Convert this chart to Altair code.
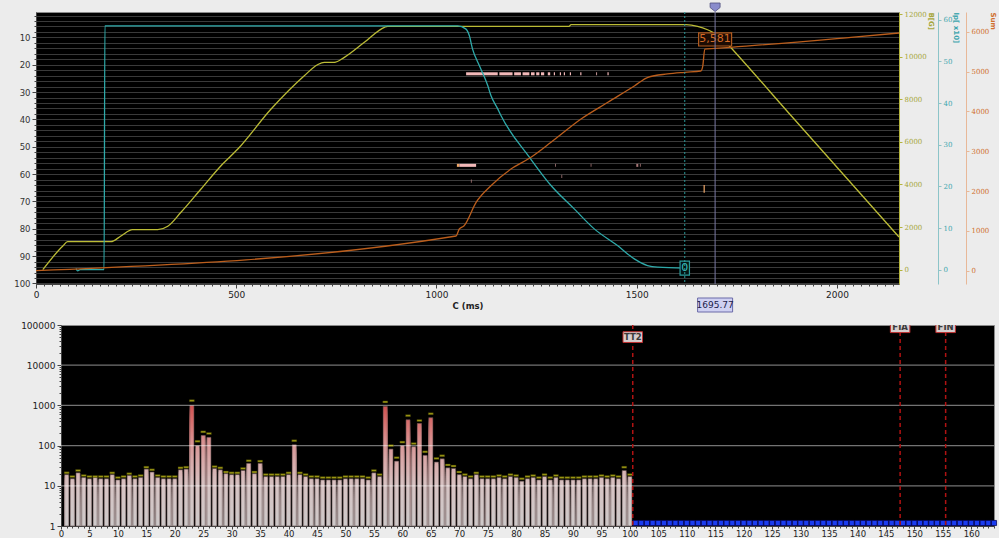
import altair as alt
import numpy as np
import pandas as pd

alt.data_transformers.disable_max_rows()

FONT = "DejaVu Sans"

# ---------------- upper panel: field, plasma current and accumulated sum vs time ----------------
T_MAX = 2155

b_t = [17, 67, 79, 187, 212, 241, 304, 329, 362, 412, 462, 504, 587, 670, 703, 720, 745, 770,
       820, 870, 878, 1331, 1336, 1623, 1652, 1677, 1690, 1712, 1731, 1893, 2155]
b_v = [0, 1112, 1314, 1314, 1581, 1877, 1877, 2037, 2694, 3787, 4880, 5664, 7541, 9104, 9620,
       9733, 9733, 9967, 10671, 11375, 11422, 11422, 11497, 11497, 11422, 11262, 11140, 10900,
       10511, 7072, 1534]

ip_t = [100, 104, 110, 170, 172, 400, 700, 1053, 1073, 1082, 1090, 1107, 1128, 1136, 1153, 1161,
        1232, 1286, 1344, 1394, 1452, 1494, 1527, 1552, 1620]
ip_v = [0.3, -0.3, 0, 0, 58.5, 58.5, 58.5, 58.5, 57.8, 56.2, 53.0, 49.0, 44.2, 41.8, 38.6, 37.0,
        27.0, 20.2, 14.6, 9.8, 5.8, 2.6, 1.0, 0.6, 0.4]

sum_t = [0, 1049, 1057, 1069, 1099, 1136, 1186, 1232, 1286, 1361, 1428, 1495, 1528, 1577, 1620,
         1660, 1665, 1670, 1695.77, 1735, 2035, 2155]
sum_v = [0, 871, 1047, 1130, 1717, 2134, 2553, 2822, 3224, 3809, 4228, 4645, 4856, 4939, 4981,
         5014, 5139, 5565, 5581, 5609, 5860, 5968]

cursor_t = 1695.77   # crosshair position
ip_mark_t = 1620     # current-zero marker

# event strips on the left (0-100) scale
ev_t0 = [1074, 1157, 1194, 1215, 1236, 1249, 1261, 1278, 1293, 1308, 1318, 1333, 1359, 1399, 1427,
         1051, 1057, 1296, 1385, 1499, 1508, 1086, 1312, 1667]
ev_t1 = [1153, 1190, 1211, 1232, 1245, 1257, 1269, 1284, 1296, 1311, 1321, 1336, 1362, 1401, 1430,
         1057, 1099, 1298, 1387, 1504, 1510, 1088, 1314, 1670]
ev_y0 = [22.75] * 15 + [56.25] * 6 + [62.0, 60.2, 64.0]
ev_y1 = [23.85] * 15 + [57.35] * 6 + [63.2, 61.4, 66.8]
ev_kind = ["a"] * 15 + ["o", "a", "c", "c", "c", "c", "c", "c", "o"]

# ---------------- lower panel: histogram on a log scale ----------------
counts = [19, 15, 21, 16, 15, 16, 15, 15, 19, 14,
          15, 18, 15, 16, 26, 22, 16, 15, 15, 15,
          25, 26, 1000, 100, 178, 160, 27, 25, 20, 19,
          19, 24, 36, 20, 36, 17, 17, 17, 17, 19,
          105, 19, 17, 15, 15, 14, 14, 14, 14, 15,
          15, 15, 15, 14, 21, 17, 950, 82, 41, 100,
          440, 94, 355, 57, 495, 39, 47, 28, 27, 19,
          17, 15, 19, 15, 15, 15, 16, 15, 17, 16,
          13, 15, 16, 14, 17, 14, 16, 14, 14, 14,
          14, 15, 15, 15, 16, 15, 16, 15, 24, 17]
peaks = [21, 17, 24, 18, 17, 17, 17, 17, 21, 16,
         17, 20, 17, 18, 29, 25, 18, 17, 17, 17,
         28, 29, 1310, 128, 220, 200, 30, 28, 22, 21,
         21, 27, 42, 22, 41, 19, 19, 19, 19, 21,
         132, 21, 19, 17, 17, 16, 16, 16, 16, 17,
         17, 17, 17, 16, 24, 19, 1220, 100, 50, 122,
         555, 112, 420, 70, 620, 48, 56, 33, 31, 22,
         19, 17, 21, 17, 17, 17, 18, 17, 19, 18,
         15, 17, 18, 16, 19, 16, 18, 16, 16, 16,
         16, 17, 17, 17, 18, 17, 18, 17, 29, 19]
bins = list(range(1, len(counts) + 1))
empty_bins = list(range(101, 165))

marker_names = ["TT2", "FIA", "FIN"]
marker_pos = [100.5, 147.5, 155.5]
marker_lab_y = [50000, 88000, 88000]

# ================= upper chart =================
W1, H1 = 863, 272

x_scale = alt.Scale(domain=[0, T_MAX], nice=False, zero=False)
x_axis = alt.Axis(
    title="C (ms)", values=list(range(0, T_MAX, 20)), format="d",
    labelExpr="datum.value % 500 === 0 ? datum.label : ''",
    tickSize={"condition": {"test": "datum.value % 500 === 0", "value": 4}, "value": 2},
    labelOverlap=False, labelFlush=False, labelFontSize=9, labelColor="#222",
    titleFontSize=8.5, titleFontWeight="bold", titleColor="#222", titlePadding=2,
    domainColor="#444", tickColor="#444", labelPadding=2, grid=False,
)


def xq(field):
    return alt.X(field, type="quantitative", scale=x_scale, axis=x_axis)


left_scale = alt.Scale(domain=[0.7, 100.2], reverse=True, nice=False, zero=False)
left_axis = alt.Axis(
    title=None, values=list(range(2, 101, 2)),
    labelExpr="datum.value % 10 === 0 ? datum.label : ''",
    tickSize={"condition": {"test": "datum.value % 10 === 0", "value": 4}, "value": 2},
    grid=True, gridColor="#3a3a3a", gridWidth=1, labelOverlap=False, labelFlush=False,
    labelFontSize=8.5, labelColor="#333", domainColor="#444", tickColor="#444",
    labelPadding=2, minExtent=28,
)

ev_df = pd.DataFrame({"t0": ev_t0, "t1": ev_t1, "y0": ev_y0, "y1": ev_y1, "kind": ev_kind})
events = alt.Chart(ev_df).mark_rect().encode(
    x=xq("t0"), x2="t1",
    y=alt.Y("y0:Q", scale=left_scale, axis=left_axis), y2="y1",
    color=alt.Color("kind:N", scale=alt.Scale(domain=["a", "o", "c"],
                                              range=["#f2b8b8", "#f0a868", "#a87878"]), legend=None),
)


def right_axis(title, values, color, label_color, offset):
    return alt.Axis(
        title=title, orient="right", offset=offset, values=values, format="d", grid=False,
        domainColor=color, tickColor=color, labelColor=label_color, titleColor=label_color,
        labelFont="DejaVu Serif", labelFontSize=7, titleFontSize=7, titleFontWeight="bold",
        titleAnchor="end", titleAlign="left", tickSize=3, labelPadding=2, titlePadding=1,
        labelFlush=False,
    )


b_scale = alt.Scale(domain=[-671, 12094], nice=False, zero=False)
b_axis = right_axis("B[G]", list(range(0, 12001, 2000)), "#b4b43c", "#a6a63a", 0)
b_df = pd.DataFrame({"t": b_t, "v": b_v})
b_line = alt.Chart(b_df).mark_line(color="#bcbc36", strokeWidth=1.3, interpolate="monotone").encode(
    x=xq("t"), y=alt.Y("v:Q", scale=b_scale, axis=b_axis)
)

ip_scale = alt.Scale(domain=[-3.43, 61.85], nice=False, zero=False)
ip_axis = right_axis("Ip[ x10]", list(range(0, 61, 10)), "#8cc4c8", "#3ea6ae", 39)
ip_df = pd.DataFrame({"t": ip_t, "v": ip_v})
ip_line = alt.Chart(ip_df).mark_line(color="#2eaaaa", strokeWidth=1.3, interpolate="monotone").encode(
    x=xq("t"), y=alt.Y("v:Q", scale=ip_scale, axis=ip_axis)
)
ip_at_mark = float(np.interp(ip_mark_t, ip_t, ip_v))
ip_lab_df = pd.DataFrame({"t": [ip_mark_t], "v": [ip_at_mark], "txt": [f"{round(ip_at_mark):d}"]})
ip_box = alt.Chart(ip_lab_df).mark_point(
    shape="M-0.67,-1H0.67V1H-0.67Z", size=196, filled=True, fill="#041414",
    stroke="#2a9a9a", strokeWidth=1.2, opacity=1,
).encode(x=xq("t"), y=alt.Y("v:Q", scale=ip_scale, axis=ip_axis))
ip_txt = alt.Chart(ip_lab_df).mark_text(color="#3cc0c0", fontSize=11, font=FONT).encode(
    x=xq("t"), y=alt.Y("v:Q", scale=ip_scale, axis=ip_axis), text="txt:N"
)
ip_layer = alt.layer(ip_line, ip_box, ip_txt)

sum_scale = alt.Scale(domain=[-334, 6495], nice=False, zero=False)
sum_axis = right_axis("Sum", list(range(0, 6001, 1000)), "#e8b898", "#d0702e", 67)
sum_df = pd.DataFrame({"t": sum_t, "v": sum_v})
sum_line = alt.Chart(sum_df).mark_line(color="#bc5e1c", strokeWidth=1.3, interpolate="monotone").encode(
    x=xq("t"), y=alt.Y("v:Q", scale=sum_scale, axis=sum_axis)
)
sum_at_cursor = float(np.interp(cursor_t, sum_t, sum_v))
sum_lab_df = pd.DataFrame({"t": [cursor_t], "v": [sum_at_cursor], "txt": [f"{sum_at_cursor:,.0f}"]})
sum_box = alt.Chart(sum_lab_df).mark_point(
    shape="M-1,-0.4H1V0.4H-1Z", size=1089, filled=True, fill="#1c0c04",
    stroke="#b05a1e", strokeWidth=1.2, opacity=1, yOffset=-9,
).encode(x=xq("t"), y=alt.Y("v:Q", scale=sum_scale, axis=sum_axis))
sum_txt = alt.Chart(sum_lab_df).mark_text(color="#d46a26", fontSize=11, font=FONT, yOffset=-9).encode(
    x=xq("t"), y=alt.Y("v:Q", scale=sum_scale, axis=sum_axis), text="txt:N"
)
sum_layer = alt.layer(sum_line, sum_box, sum_txt)

ip_rule = alt.Chart(pd.DataFrame({"t": [ip_mark_t]})).mark_rule(
    color="#2a9a9a", strokeDash=[2, 2], strokeWidth=1
).encode(x=xq("t"))

cur_df = pd.DataFrame({"t": [cursor_t], "txt": [f"{cursor_t:.2f}"]})
cursor_rule = alt.Chart(cur_df).mark_rule(color="#7a7aa4", strokeWidth=1).encode(x=xq("t"))
cursor_tri = alt.Chart(cur_df).mark_point(
    shape="M-1,-0.8H1V0.1L0,0.9L-1,0.1Z", size=100, filled=True, fill="#8a8ccc",
    stroke="#505080", strokeWidth=0.8, opacity=1,
).encode(x=xq("t"), y=alt.value(-5))
cursor_box = alt.Chart(cur_df).mark_point(
    shape="M-1,-0.4H1V0.4H-1Z", size=1225, filled=True, fill="#cfd0f2",
    stroke="#6a6aa8", strokeWidth=1, opacity=1,
).encode(x=xq("t"), y=alt.value(H1 + 21))
cursor_txt = alt.Chart(cur_df).mark_text(color="#20204a", fontSize=9, font=FONT).encode(
    x=xq("t"), y=alt.value(H1 + 21), text="txt:N"
)

top = alt.layer(
    events, b_line, ip_layer, sum_layer, ip_rule, cursor_rule, cursor_tri, cursor_box, cursor_txt
).resolve_scale(y="independent").properties(width=W1, height=H1)

# ================= lower chart =================
W2, H2 = 933, 201

xb_scale = alt.Scale(domain=[0, 164], nice=False, zero=False)
xb_axis = alt.Axis(
    title=None, values=list(range(0, 165)),
    labelExpr="datum.value % 5 === 0 ? datum.label : ''",
    tickSize={"condition": {"test": "datum.value % 5 === 0", "value": 3}, "value": 2},
    labelOverlap=False, labelFlush=False, labelFontSize=8.5, labelColor="#222",
    domainColor="#444", tickColor="#444", labelPadding=0, grid=False,
)
log_vals = [m * 10 ** e for e in range(0, 5) for m in range(1, 10)] + [100000]
yb_scale = alt.Scale(type="log", domain=[1, 100000], nice=False)
yb_axis = alt.Axis(
    title=None, values=log_vals,
    labelExpr="indexof([1,10,100,1000,10000,100000], datum.value) >= 0 ? format(datum.value, 'd') : ''",
    tickSize={"condition": {"test": "indexof([1,10,100,1000,10000,100000], datum.value) >= 0",
                            "value": 4}, "value": 2},
    labelOverlap=False, labelFlush=False, labelFontSize=9, labelColor="#222",
    domainColor="#444", tickColor="#444", labelPadding=2, grid=False,
)


def xb(field):
    return alt.X(field, type="quantitative", scale=xb_scale, axis=xb_axis)


def yb(field):
    return alt.Y(field, type="quantitative", scale=yb_scale, axis=yb_axis)


# each bar is painted as nested slices so that its colour follows the height on the log axis
levels = 10 ** (np.arange(1, 66) / 20.0)
rows = []
for b, c in zip(bins, counts):
    tops = []
    prev = 1.0
    for L in levels:
        if prev >= c:
            break
        tops.append(min(c, L))
        prev = L
    for tp in reversed(tops):
        rows.append({"x0": b - 0.36, "x1": b + 0.36, "lo": 1.0, "hi": float(tp),
                     "lv": float(np.log10(tp))})
slices = pd.DataFrame(rows)

bars = alt.Chart(slices).mark_rect().encode(
    x=xb("x0"), x2="x1", y=yb("lo"), y2="hi",
    color=alt.Color("lv:Q", scale=alt.Scale(domain=[0, 1, 2, 3.1],
                                            range=["#cdc9c9", "#d6c4c4", "#d89a9a", "#cf4a4a"]),
                    legend=None),
)
bar_df = pd.DataFrame({"b": bins, "x0": [b - 0.36 for b in bins], "x1": [b + 0.36 for b in bins],
                       "lo": [1.0] * len(bins), "hi": counts, "peak": peaks})
outline = alt.Chart(bar_df).mark_rect(fillOpacity=0, stroke="#5e4a4a", strokeWidth=0.6).encode(
    x=xb("x0"), x2="x1", y=yb("lo"), y2="hi"
)
grid_df = pd.DataFrame({"g": [10, 100, 1000, 10000]})
grid = alt.Chart(grid_df).mark_rule(color="white", opacity=0.45, strokeWidth=1.3).encode(y=yb("g"))
peak_ticks = alt.Chart(bar_df).mark_tick(
    orient="horizontal", size=5, thickness=2, color="#e2dc1e", stroke="#3a3800", strokeWidth=0.4
).encode(x=xb("b"), y=yb("peak"))

empty_df = pd.DataFrame({"b": empty_bins, "v": [1.0] * len(empty_bins)})
empties = alt.Chart(empty_df).mark_square(
    size=26, filled=True, fill="#1a3cf0", stroke="#0a0a60", strokeWidth=0.8, opacity=1, yOffset=-3
).encode(x=xb("b"), y=yb("v"))

mk_df = pd.DataFrame({"name": marker_names, "pos": marker_pos, "ly": marker_lab_y})
mk_rules = alt.Chart(mk_df).mark_rule(color="#b01212", strokeDash=[4, 3], strokeWidth=1.5).encode(
    x=xb("pos")
)
mk_box = alt.Chart(mk_df).mark_point(
    shape="M-1,-0.55H1V0.55H-1Z", size=380, filled=True, fill="#d6cece",
    stroke="#c03030", strokeWidth=1, opacity=1, clip=True,
).encode(x=xb("pos"), y=yb("ly"))
mk_txt = alt.Chart(mk_df).mark_text(
    color="#3a3a3a", fontSize=8.5, fontWeight="bold", font=FONT, clip=True
).encode(x=xb("pos"), y=yb("ly"), text="name:N")

bottom = alt.layer(bars, outline, grid, peak_ticks, empties, mk_rules, mk_box, mk_txt).properties(
    width=W2, height=H2
)

# narrow blank column that shifts the histogram to the right of the upper panel
spacer = alt.Chart(pd.DataFrame({"a": [0]})).mark_point(opacity=0).encode(
    x=alt.value(0), y=alt.value(0)
).properties(width=25, height=H2, view=alt.ViewBackground(fill="transparent", stroke="transparent"))

bottom_row = alt.hconcat(spacer, bottom, spacing=0, bounds="flush")

chart = alt.vconcat(top, bottom_row, spacing=5).properties(
    padding={"left": 7, "top": 0, "right": 0, "bottom": 0},
    background="#ececec",
).configure_view(fill="black", stroke="#8a8a8a", strokeWidth=1).configure_axis(
    labelFont=FONT, titleFont=FONT
)

chart.save("out.html", embed_options={"renderer": "svg", "actions": False})
